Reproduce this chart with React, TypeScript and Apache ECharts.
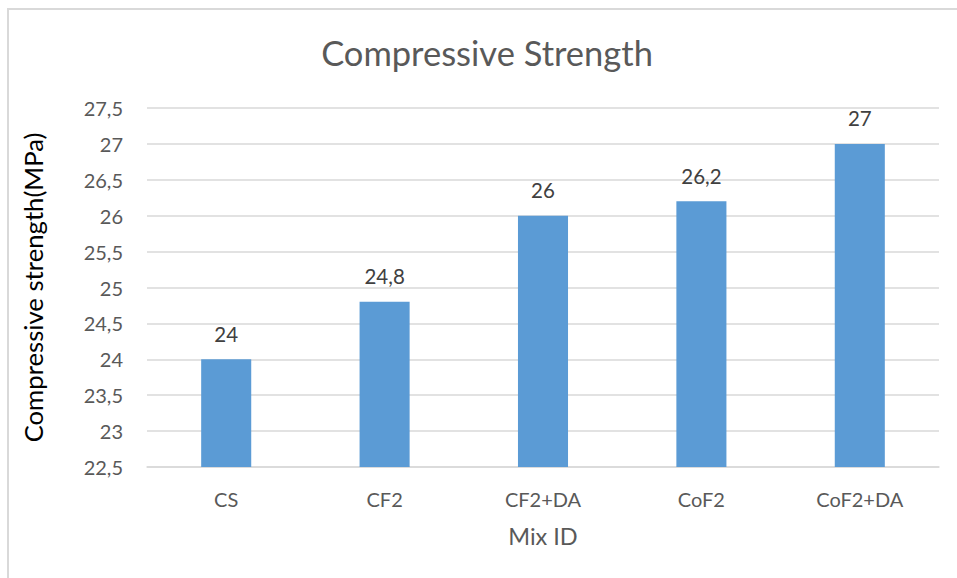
import React, { useEffect, useRef } from "react";
import * as echarts from "echarts";

const categories: string[] = ["CS", "CF2", "CF2+DA", "CoF2", "CoF2+DA"];
const strengthValues: number[] = [24, 24.8, 26, 26.2, 27];
const titleText = "Compressive Strength";
const yAxisTitle = "Compressive strength(MPa)";
const xAxisTitle = "Mix ID";

const FONT = "Lato, 'Open Sans', sans-serif";
const comma = (v: number | string) => String(v).replace(".", ",");

export default function App() {
  const ref = useRef<HTMLDivElement>(null);
  useEffect(() => {
    document.body.style.margin = "0";
    if (!ref.current) return;
    const chart = echarts.init(ref.current, undefined, { renderer: "svg" });
    chart.setOption({
      animation: false,
      backgroundColor: "#ffffff",
      textStyle: { fontFamily: FONT },
      title: {
        text: titleText,
        left: 482,
        top: 30,
        textAlign: "center",
        textStyle: { fontFamily: FONT, fontSize: 34.5, fontWeight: "normal", color: "#595959" },
      },
      graphic: [
        {
          type: "rect",
          shape: { x: 8, y: 9, width: 1000, height: 1000 },
          style: { fill: "none", stroke: "#d9d9d9", lineWidth: 2 },
          silent: true,
        },
      ],
      grid: { left: 147, right: 18, top: 108, bottom: 111, containLabel: false },
      xAxis: {
        type: "category",
        data: categories,
        name: xAxisTitle,
        nameLocation: "middle",
        nameGap: 57,
        nameTextStyle: { fontFamily: FONT, fontSize: 23.5, color: "#595959" },
        axisTick: { show: false },
        axisLine: { lineStyle: { color: "#d9d9d9", width: 1.5 } },
        axisLabel: { margin: 22, fontFamily: FONT, fontSize: 20, color: "#595959" },
      },
      yAxis: {
        type: "value",
        min: 22.5,
        max: 27.5,
        interval: 0.5,
        name: yAxisTitle,
        nameLocation: "middle",
        nameGap: 101,
        nameTextStyle: { fontFamily: FONT, fontSize: 25.7, color: "#000000" },
        axisLine: { show: false },
        axisTick: { show: false },
        splitLine: { lineStyle: { color: "#d9d9d9", width: 1.5 } },
        axisLabel: {
          margin: 24,
          fontFamily: FONT,
          fontSize: 20,
          color: "#595959",
          formatter: (v: number) => comma(v),
        },
      },
      series: [
        {
          type: "bar",
          data: strengthValues,
          barWidth: "31.6%",
          itemStyle: { color: "#5b9bd5" },
          label: {
            show: true,
            position: "top",
            distance: 15,
            fontFamily: FONT,
            fontSize: 20.5,
            color: "#404040",
            formatter: (p: any) => comma(p.value),
          },
        },
      ],
    });
    return () => chart.dispose();
  }, []);
  return <div ref={ref} style={{ width: 957, height: 578 }} />;
}
